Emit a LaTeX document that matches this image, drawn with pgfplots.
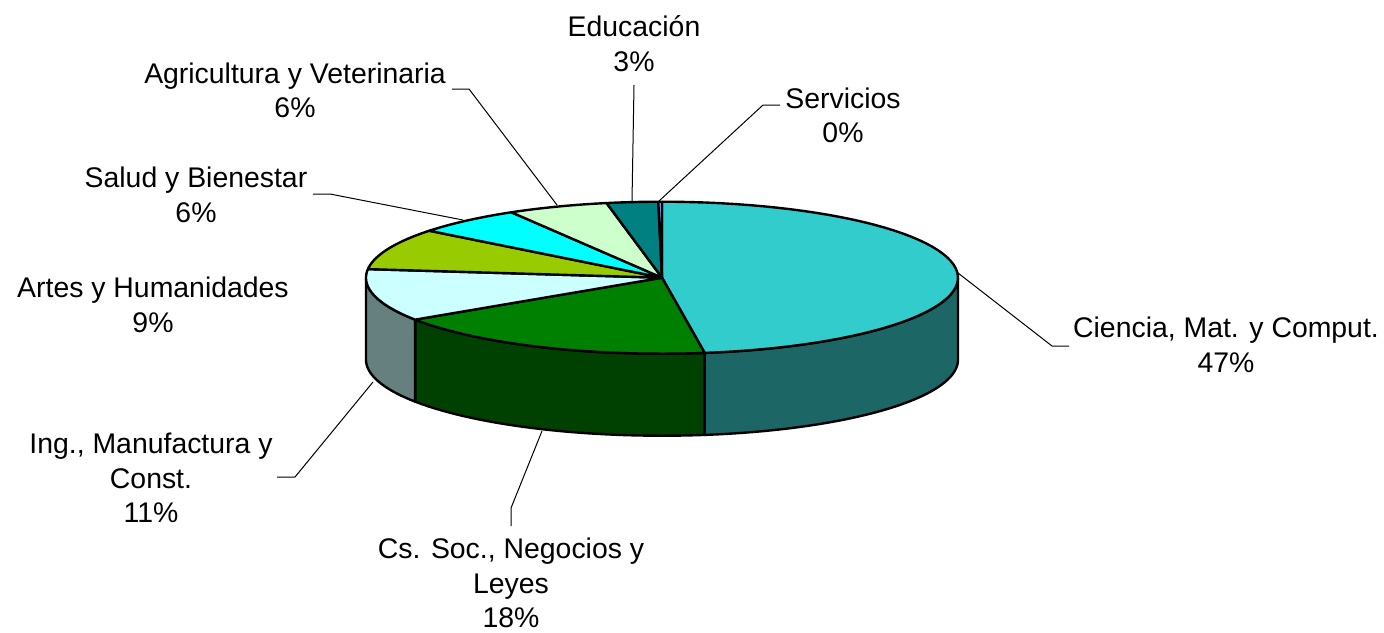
\documentclass[border=0pt]{standalone}
\usepackage{pgfplots}
\pgfplotsset{compat=1.18}
\usepackage{pgfplotstable}
\usepackage{fontspec}
\setmainfont{Liberation Sans}

\definecolor{c0}{HTML}{33CCCC}\definecolor{s0}{HTML}{1C6666}
\definecolor{c1}{HTML}{008000}\definecolor{s1}{HTML}{004000}
\definecolor{c2}{HTML}{CCFFFF}\definecolor{s2}{HTML}{668080}
\definecolor{c3}{HTML}{99CC00}
\definecolor{c4}{HTML}{00FFFF}
\definecolor{c5}{HTML}{CCFFCC}
\definecolor{c6}{HTML}{008080}
\definecolor{c7}{HTML}{9999FF}

% share of each field (%), clockwise from 12 o'clock
\pgfplotstableread{
field pct
Ciencia 47.7
CsSoc 18.0
Ing 11.1
Artes 8.8
Salud 5.9
Agri 5.5
Educ 2.8
Serv 0.2
}\pietable

% geometry of the pie (image pixels)
\def\cx{662}\def\cy{277.7}\def\rx{296}\def\ry{76}\def\dep{82}

\def\topang#1#2{(\t<=60 ? (#1)+((#2)-(#1))*\t/60 : (\t<=120 ? (#2) : (#1)))}
\def\toprad{(\t<=60 ? 1 : (\t<=120 ? (120-\t)/60 : (\t-120)/60))}
\def\sideang#1#2{(\t<=60 ? (#1)+((#2)-(#1))*\t/60 : (\t<=120 ? (#2) : (\t<=180 ? (#2)-((#2)-(#1))*(\t-120)/60 : (#1))))}
\def\sidedep{(\t<=60 ? 0 : (\t<=120 ? (\t-60)/60 : (\t<=180 ? 1 : (240-\t)/60)))}

\newcommand\topslice[3]{%
  \addplot[fill=#3, draw=black, line width=1.2pt, line join=round, no markers,
    samples at={0,1,...,60,120,180}, variable=\t]
  ({\cx+\rx*\toprad*sin(\topang{#1}{#2})},{\cy-\ry*\toprad*cos(\topang{#1}{#2})});
}
\newcommand\sideslice[3]{%
  \addplot[fill=#3, draw=black, line width=1.2pt, line join=round, no markers,
    samples at={0,1,...,60,120,121,...,180,240}, variable=\t]
  ({\cx+\rx*sin(\sideang{#1}{#2})},{\cy-\ry*cos(\sideang{#1}{#2})+\dep*\sidedep});
}
\newcommand\ang[1]{\csname ang#1\endcsname}
\newcommand\lbl{\fontsize{14.2pt}{17.3pt}\selectfont}

\begin{document}
\begin{tikzpicture}
\def\cumang{0}
\foreach \i in {0,...,7}{%
  \pgfplotstablegetelem{\i}{pct}\of\pietable
  \pgfmathsetmacro\tmpa{\cumang+3.6*\pgfplotsretval}%
  \expandafter\xdef\csname ang\i\endcsname{\cumang}%
  \xdef\cumang{\tmpa}%
}
\expandafter\xdef\csname ang8\endcsname{\cumang}
\begin{axis}[
  scale only axis, width=692pt, height=316pt,
  xmin=0, xmax=1384, ymin=0, ymax=632, y dir=reverse,
  hide axis, clip=false,
  nodes={font=\lbl, align=center, inner sep=0pt}
]
% front sides
\sideslice{90}{\ang{1}}{s0}
\sideslice{\ang{1}}{\ang{2}}{s1}
\sideslice{\ang{2}}{270}{s2}
% top faces
\topslice{\ang{0}}{\ang{1}}{c0}
\topslice{\ang{1}}{\ang{2}}{c1}
\topslice{\ang{2}}{\ang{3}}{c2}
\topslice{\ang{3}}{\ang{4}}{c3}
\topslice{\ang{4}}{\ang{5}}{c4}
\topslice{\ang{5}}{\ang{6}}{c5}
\topslice{\ang{6}}{\ang{7}}{c6}
\topslice{\ang{7}}{\ang{8}}{c7}
% leader lines
\addplot[black, line width=0.5pt, no markers] coordinates {(958,273) (1052,346) (1069,346)};
\addplot[black, line width=0.5pt, no markers] coordinates {(542,431) (511,508) (511,526)};
\addplot[black, line width=0.5pt, no markers] coordinates {(373,382) (295,477) (277,477)};
\addplot[black, line width=0.5pt, no markers] coordinates {(463,220) (330,194) (313,194)};
\addplot[black, line width=0.5pt, no markers] coordinates {(557,205) (469,89) (452,89)};
\addplot[black, line width=0.5pt, no markers] coordinates {(632,201) (634,85)};
\addplot[black, line width=0.5pt, no markers] coordinates {(659,201) (763,105) (780,105)};
% labels
\node at (axis cs:1226,345) {Ciencia, Mat. y Comput.\\47\%};
\node at (axis cs:511,583) {Cs. Soc., Negocios y\\Leyes\\18\%};
\node at (axis cs:151,478) {Ing., Manufactura y\\Const.\\11\%};
\node at (axis cs:153,305) {Artes y Humanidades\\9\%};
\node at (axis cs:196,195) {Salud y Bienestar\\6\%};
\node at (axis cs:295,90.5) {Agricultura y Veterinaria\\6\%};
\node at (axis cs:634,43.5) {Educación\\3\%};
\node at (axis cs:843,115.5) {Servicios\\0\%};
\end{axis}
\pgfresetboundingbox
\path (current axis.south west) rectangle (current axis.north east);
\end{tikzpicture}
\end{document}
